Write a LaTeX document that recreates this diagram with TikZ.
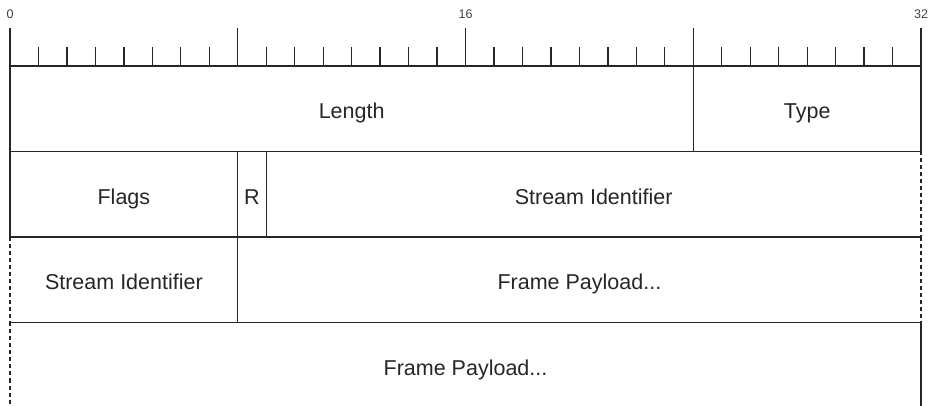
\documentclass[tikz,border=0pt]{standalone}
\usepackage{fontspec}
\setmainfont{Liberation Sans}
\usepackage{tikz}

\begin{document}
\begin{tikzpicture}[x=28.47pt,y=-1pt,line width=1.3pt,draw=black!85,
    every node/.style={inner sep=0pt},
    field/.style={anchor=base,yshift=-10pt,font=\fontsize{21.5}{25}\selectfont,text=black!85},
    bitnum/.style={font=\fontsize{12.5}{14}\selectfont,text=black!75},
    open/.style={dash pattern=on 4pt off 3pt}]
  \useasboundingbox (-0.3513,0) rectangle (32.3147,406);
  % ruler
  \foreach \i in {0,...,32}{
    \pgfmathtruncatemacro\r{mod(\i,8)}
    \ifnum\r=0 \draw (\i,28) -- (\i,66); \else \draw (\i,47) -- (\i,66); \fi
  }
  \node[bitnum] (n0) at (0,14.5) {0};
  \node[bitnum] (n16) at (16,14.5) {16};
  \node[bitnum] (n32) at (32,14.5) {32};
  % row 1
  \draw (0,66) rectangle (32,151.5);
  \draw (24,66) -- (24,151.5);
  \node[field] (length) at (12,108.75) {Length};
  \node[field] (type) at (28,108.75) {Type};
  % row 2
  \draw (0,151.5) -- (0,237) -- (32,237);
  \draw (8,151.5) -- (8,237);
  \draw (9,151.5) -- (9,237);
  \draw[open] (32,151.5) -- (32,237);
  \node[field] (flags) at (4,194.25) {Flags};
  \node[field] (rbit) at (8.5,194.25) {R};
  \node[field] (streamid) at (20.5,194.25) {Stream Identifier};
  % row 3
  \draw[open] (0,237) -- (0,322.5);
  \draw[open] (32,237) -- (32,322.5);
  \draw (8,237) -- (8,322.5);
  \draw (0,322.5) -- (32,322.5);
  \node[field] (streamidb) at (4,279.75) {Stream Identifier};
  \node[field] (payload) at (20,279.75) {Frame Payload...};
  % row 4
  \draw[open] (0,322.5) -- (0,406);
  \draw (32,322.5) -- (32,406);
  \node[field] (payloadb) at (16,365.25) {Frame Payload...};
\end{tikzpicture}
\end{document}
